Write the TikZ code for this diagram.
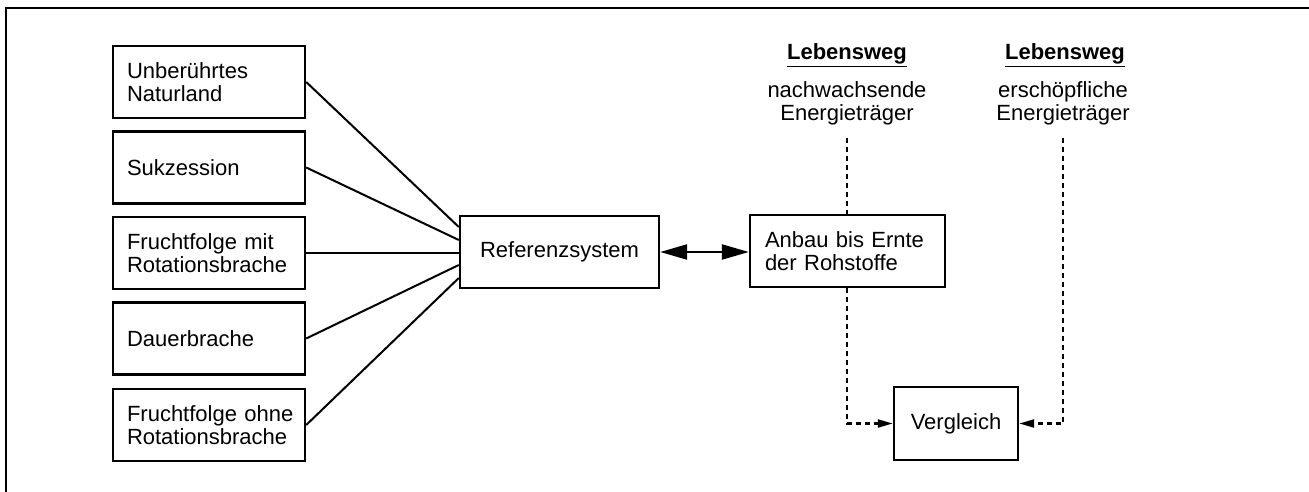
\documentclass[tikz,border=0pt]{standalone}
\usepackage{fontspec}
\setmainfont{Liberation Sans}
\usetikzlibrary{arrows.meta,calc}
\tikzset{
  bigtip/.tip={Triangle[length=27pt,width=15pt]},
  smalltip/.tip={Triangle[length=15pt,width=8pt]}}
\begin{document}
\begin{tikzpicture}[x=1pt,y=-1pt,
  every node/.style={font=\fontsize{22}{23}\selectfont},
  leftbox/.style={draw,line width=2.4pt,text width=164pt,inner xsep=14pt,align=left,minimum height=72pt},
  conn/.style={line width=2pt},
  dashconn/.style={line width=2.2pt,dash pattern=on 5pt off 4pt},
  title/.style={font=\fontsize{22}{23}\selectfont\bfseries},
  sub/.style={align=center}]
\useasboundingbox (0,0) rectangle (1309,492);
% outer frame (left and top edges visible)
\coordinate (fbl) at (6,492);
\coordinate (ftl) at (6,8);
\coordinate (ftr) at (1309,8);
\draw[line width=2.4pt] (fbl) -- (ftl) -- (ftr);
% left boxes
\node[leftbox] (b1) at (209,82) {\mbox{Unberührtes}\\\mbox{Naturland}};
\node[leftbox] (b2) at (209,167.5) {\mbox{Sukzession}};
\node[leftbox] (b3) at (209,253) {\mbox{Fruchtfolge mit}\\\mbox{Rotationsbrache}};
\node[leftbox] (b4) at (209,338.5) {\mbox{Dauerbrache}};
\node[leftbox] (b5) at (209,425) {\mbox{Fruchtfolge ohne}\\\mbox{Rotationsbrache}};
% middle
\node[draw,line width=2.4pt,minimum width=199pt,minimum height=72pt] (ref) at (559.5,252) {Referenzsystem};
\node[draw,line width=2.4pt,text width=165pt,inner xsep=15pt,align=left,minimum height=72pt] (anbau) at (847.5,251) {Anbau bis Ernte\\der Rohstoffe};
\node[draw,line width=2.4pt,minimum width=124pt,minimum height=73pt] (vgl) at (956,423.5) {Vergleich};
% titles
\node[title] (t1) at (847,55) {\underline{Lebensweg}};
\node[title] (t2) at (1065,55) {\underline{Lebensweg}};
\node[sub] (s1) at (847,103) {nachwachsende\\Energieträger};
\node[sub] (s2) at (1063,103) {erschöpfliche\\Energieträger};
% connectors left
\draw[conn] (b1.east) -- ($(ref.west)+(0,-25)$);
\draw[conn] (b2.east) -- ($(ref.west)+(0,-12)$);
\draw[conn] (b3.east) -- (b3.east -| ref.west);
\draw[conn] (b4.east) -- ($(ref.west)+(0,13)$);
\draw[conn] (b5.east) -- ($(ref.west)+(0,26)$);
% double arrow
\draw[line width=2.4pt,bigtip-bigtip] (ref.east) -- (ref.east -| anbau.west);
% dashed paths
\coordinate (d1top) at (847,138);
\coordinate (d2top) at (1063,138);
\draw[dashconn] (d1top) -- (d1top |- anbau.north);
\draw[dashconn,-smalltip] (anbau.south -| d1top) |- (vgl.west);
\draw[dashconn,-smalltip] (d2top) |- (vgl.east);
\end{tikzpicture}
\end{document}
